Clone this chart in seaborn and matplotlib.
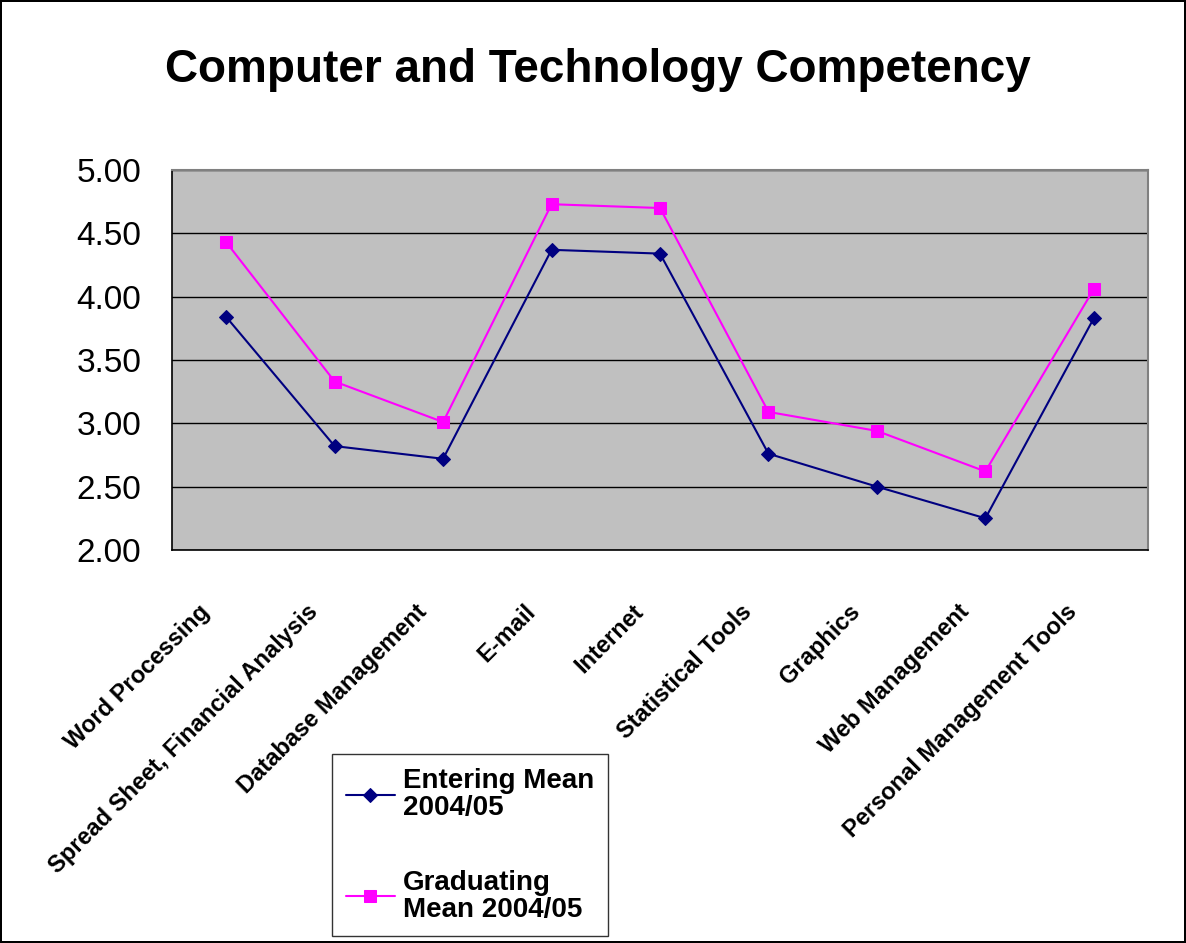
import matplotlib
matplotlib.use("Agg")
import matplotlib.pyplot as plt
import matplotlib.transforms as mtransforms
import seaborn as sns
import numpy as np
import pandas as pd

categories = ["Word Processing", "Spread Sheet, Financial Analysis", "Database Management",
              "E-mail", "Internet", "Statistical Tools", "Graphics", "Web Management",
              "Personal Management Tools"]
entering = [3.84, 2.82, 2.72, 4.37, 4.34, 2.76, 2.50, 2.25, 3.83]
graduating = [4.43, 3.33, 3.01, 4.73, 4.70, 3.09, 2.94, 2.62, 4.06]
y_ticks = [2.00, 2.50, 3.00, 3.50, 4.00, 4.50, 5.00]

sns.set_style("white")
plt.rcParams['font.family'] = ['Liberation Sans', 'DejaVu Sans']
plt.rcParams['text.color'] = 'black'
plt.rcParams['xtick.color'] = 'black'
plt.rcParams['ytick.color'] = 'black'

fig = plt.figure(figsize=(11.86, 9.43), dpi=100)
fig.patch.set_edgecolor("black")
fig.patch.set_linewidth(1.5)
ax = fig.add_axes([0.145, 0.4168, 0.823, 0.4029])
ax.set_facecolor("#c0c0c0")

pos = np.arange(len(categories))
df = pd.DataFrame({"pos": pos, "entering": entering, "graduating": graduating})

sns.lineplot(data=df, x="pos", y="entering", ax=ax, color="#000080", marker="D",
             markersize=7.5, linewidth=1.5, markeredgecolor="#000080",
             label="Entering Mean\n2004/05")
sns.lineplot(data=df, x="pos", y="graduating", ax=ax, color="#ff00ff", marker="s",
             markersize=8, linewidth=1.5, markeredgecolor="#ff00ff",
             label="Graduating\nMean 2004/05")

ax.set_xlim(-0.5, len(categories) - 0.5)
ax.set_ylim(2.0, 5.0)
ax.set_yticks(y_ticks)
ax.set_yticklabels(["%.2f" % v for v in y_ticks], fontsize=24)
ax.yaxis.grid(True, color="black", linewidth=1)
ax.set_axisbelow(True)

# ticks at category boundaries, labels at centres
ax.set_xticks(np.arange(len(categories) + 1) - 0.5)
ax.set_xticklabels([])
ax.set_xticks(pos, minor=True)
ax.set_xticklabels(categories, minor=True, rotation=45, ha="right", va="center",
                   rotation_mode="anchor", fontsize=17, fontweight="bold")
ax.tick_params(axis="x", which="minor", length=0, pad=42)
ax.tick_params(axis="x", which="major", length=7, width=1, direction="out")
ax.tick_params(axis="y", length=7, width=1, direction="out", pad=15)
shift = mtransforms.ScaledTranslation(-0.2, 0, fig.dpi_scale_trans)
for lab in ax.get_xticklabels(minor=True):
    lab.set_transform(lab.get_transform() + shift)
ax.set_xlabel("")
ax.set_ylabel("")

for side in ["left", "bottom"]:
    ax.spines[side].set_color("black")
    ax.spines[side].set_linewidth(1.2)
for side in ["top", "right"]:
    ax.spines[side].set_color("#808080")
    ax.spines[side].set_linewidth(1.5)

fig.text(0.504, 0.926, "Computer and Technology Competency", ha="center", va="center",
         fontsize=33, fontweight="bold")

leg = ax.legend(loc="upper left", bbox_to_anchor=(0.28, 0.2004), bbox_transform=fig.transFigure,
                frameon=True, fancybox=False, edgecolor="black", borderaxespad=0,
                prop={"weight": "bold", "size": 20}, handlelength=1.75, handletextpad=0.3,
                labelspacing=1.75, borderpad=0.5)
leg.get_frame().set_linewidth(1)
for t in leg.get_texts():
    t.set_linespacing(1.05)

fig.savefig("out.png", dpi=100)
